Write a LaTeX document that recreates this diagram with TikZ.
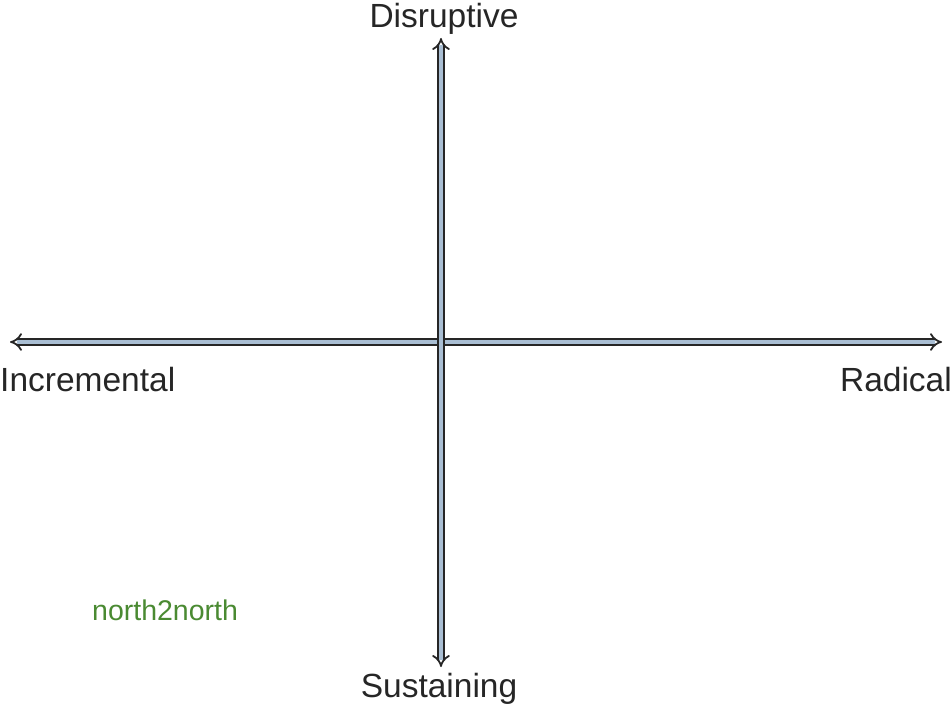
\documentclass[tikz,border=0pt]{standalone}
\usepackage{fontspec}
\setmainfont{Liberation Sans}
\usetikzlibrary{arrows.meta}
\definecolor{axisfill}{HTML}{A9BED3}
\definecolor{taggreen}{HTML}{4A8A32}
\begin{document}
\begin{tikzpicture}[x=1pt,y=-1pt,
  axislabel/.style={inner sep=0pt, font=\fontsize{33.5}{36}\selectfont, text=black!85},
  axisarrow/.style={draw=black!85, line width=1.8pt, double=axisfill, double distance=4.2pt,
    {Implies[length=8pt]}-{Implies[length=8pt]}},
  tag/.style={inner sep=0pt, font=\fontsize{28.5}{30}\selectfont, text=taggreen}]
  \useasboundingbox (0,0) rectangle (952,709);
  % axis end points
  \coordinate (west) at (10,342);
  \coordinate (east) at (942,342);
  \coordinate (north) at (441,38);
  \coordinate (south) at (441,667);
  % axes
  \draw[axisarrow] (west) -- (east);
  \draw[axisarrow] (north) -- (south);
  % labels
  \node[axislabel, anchor=base] (disr) at (444,28) {Disruptive};
  \node[axislabel, anchor=base] (sust) at (439,697) {Sustaining};
  \node[axislabel, anchor=base west] (incr) at (0,391) {Incremental};
  \node[axislabel, anchor=base east] (radi) at (952,391) {Radical};
  \node[tag, anchor=base west] (brand) at (92,620) {north2north};
\end{tikzpicture}
\end{document}
